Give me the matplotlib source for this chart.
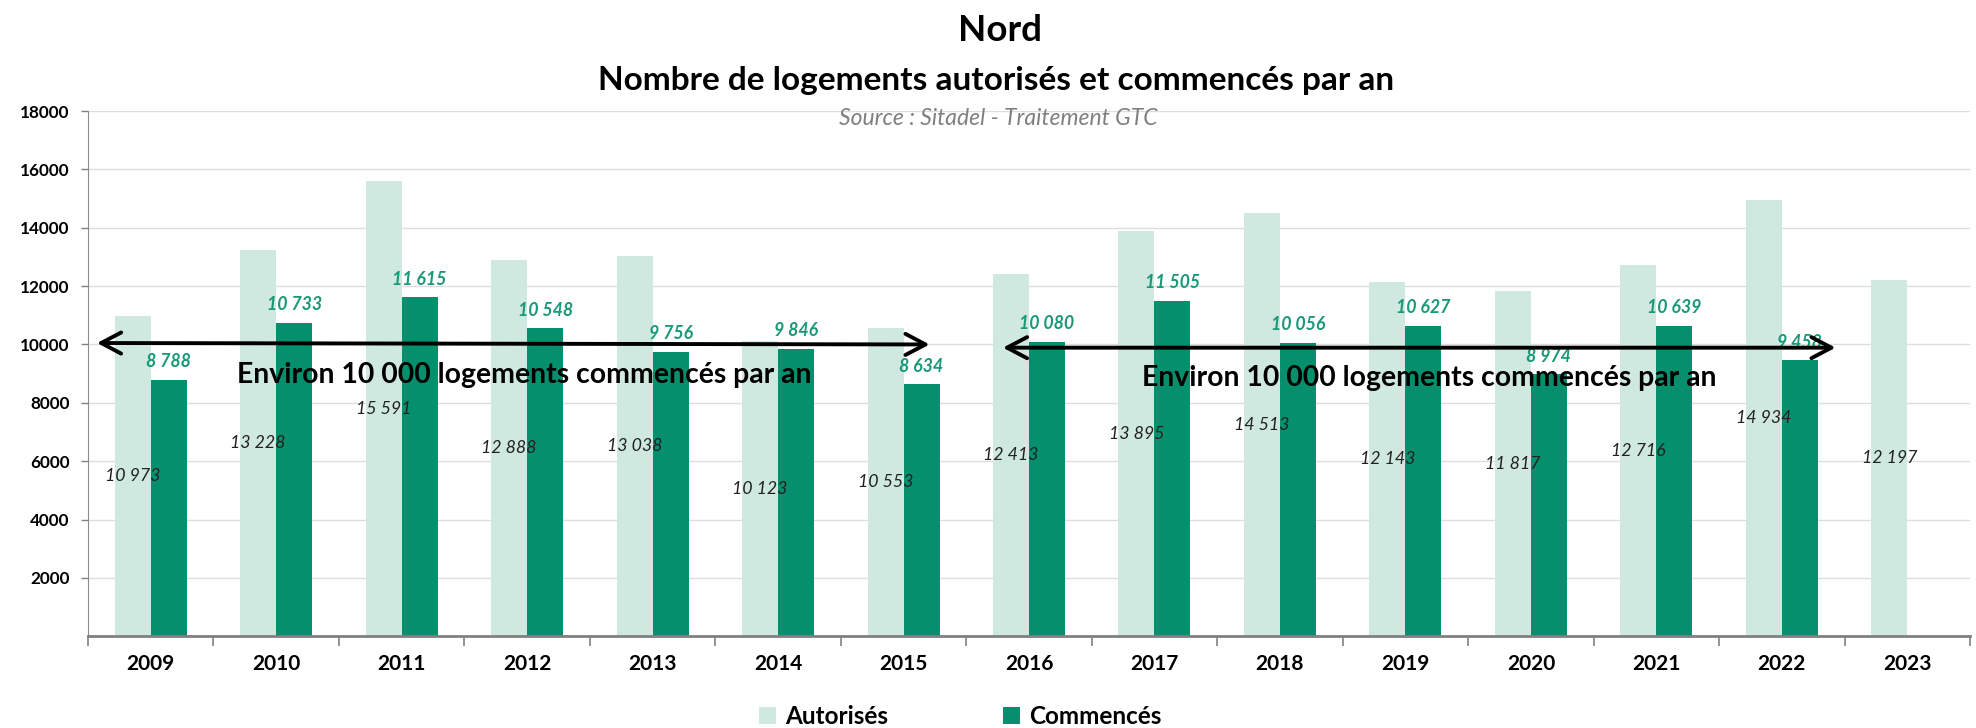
import numpy as np
import matplotlib.pyplot as plt
from matplotlib.patches import FancyArrowPatch

plt.rcParams['font.family'] = ['Lato', 'DejaVu Sans']

annees = ['2009', '2010', '2011', '2012', '2013', '2014', '2015', '2016',
          '2017', '2018', '2019', '2020', '2021', '2022', '2023']
autorises = [10973, 13228, 15591, 12888, 13038, 10123, 10553, 12413,
             13895, 14513, 12143, 11817, 12716, 14934, 12197]
commences = [8788, 10733, 11615, 10548, 9756, 9846, 8634, 10080,
             11505, 10056, 10627, 8974, 10639, 9458, None]

def fr(v):
    return f"{v:,}".replace(',', ' ')

c_light = '#CFE8E0'
c_dark = '#058F6D'
c_lab = '#1A9878'

fig = plt.figure(figsize=(19.76, 7.28), dpi=100)
ax = fig.add_axes([0.0445, 0.126, 0.9525, 0.7215])

x = np.arange(len(annees))
w = 0.287
ax.bar(x - w/2, autorises, w, color=c_light, label='Autorisés', zorder=2)
com = [np.nan if v is None else v for v in commences]
ax.bar(x + w/2, com, w, color=c_dark, label='Commencés', zorder=2)

for i, v in enumerate(autorises):
    ax.text(i - w/2, v/2, fr(v), ha='center', va='center', fontsize=12.8,
            style='italic', color='#222222', zorder=4)
for i, v in enumerate(commences):
    if v is None:
        continue
    ax.annotate(fr(v), (i + w/2, v), xytext=(0, 7), textcoords='offset points',
                ha='center', va='bottom', fontsize=12.8, style='italic',
                fontweight='bold', color=c_lab, zorder=4)

ax.set_xlim(-0.5, len(annees) - 0.5)
ax.set_ylim(0, 18000)
ax.set_yticks(range(2000, 18001, 2000))
ax.set_yticklabels([str(t) for t in range(2000, 18001, 2000)],
                   fontsize=12.3, fontweight='bold')
ax.set_xticks(x)
ax.set_xticklabels(annees, fontsize=15, fontweight='bold')
ax.set_xticks(np.arange(-0.5, len(annees), 1), minor=True)
ax.tick_params(axis='x', which='major', length=0, pad=13)
ax.tick_params(axis='x', which='minor', length=7, width=1.2, color='#808080')
ax.tick_params(axis='y', length=5, width=1, color='#808080', pad=8)
ax.grid(axis='y', color='#DDDDDD', lw=1, zorder=0)
for s in ['top', 'right']:
    ax.spines[s].set_visible(False)
ax.spines['left'].set_color('#8C8C8C')
ax.spines['bottom'].set_color('#808080')
ax.spines['bottom'].set_linewidth(2)

# fleches "environ 10 000"
for (x0, y0, x1, y1) in [(-0.45, 10050, 6.23, 10000), (6.77, 9890, 13.45, 9890)]:
    a = FancyArrowPatch((x0, y0), (x1, y1), arrowstyle='<->,head_length=0.72,head_width=0.38',
                        mutation_scale=20, lw=2.8, color='black', zorder=5)
    ax.add_patch(a)
ax.text(0.685, 8940, 'Environ 10 000 logements commencés par an', fontsize=20.4,
        fontweight='bold', va='center', ha='left', zorder=6)
ax.text(7.9, 8840, 'Environ 10 000 logements commencés par an', fontsize=20.4,
        fontweight='bold', va='center', ha='left', zorder=6)

fig.text(0.506, 0.958, 'Nord', ha='center', va='center', fontsize=26.5, fontweight='bold')
fig.text(0.504, 0.889, 'Nombre de logements autorisés et commencés par an',
         ha='center', va='center', fontsize=24, fontweight='bold')
fig.text(0.505, 0.837, 'Source : Sitadel - Traitement GTC', ha='center', va='center',
         fontsize=16.5, style='italic', color='#7F7F7F')

fig.legend(loc='lower center', bbox_to_anchor=(0.486, -0.03), ncol=2, frameon=False,
           prop={'weight': 'bold', 'size': 17.5}, handlelength=0.7,
           handleheight=0.7, handletextpad=0.4, columnspacing=4.7)

fig.savefig('out.png', dpi=100)
